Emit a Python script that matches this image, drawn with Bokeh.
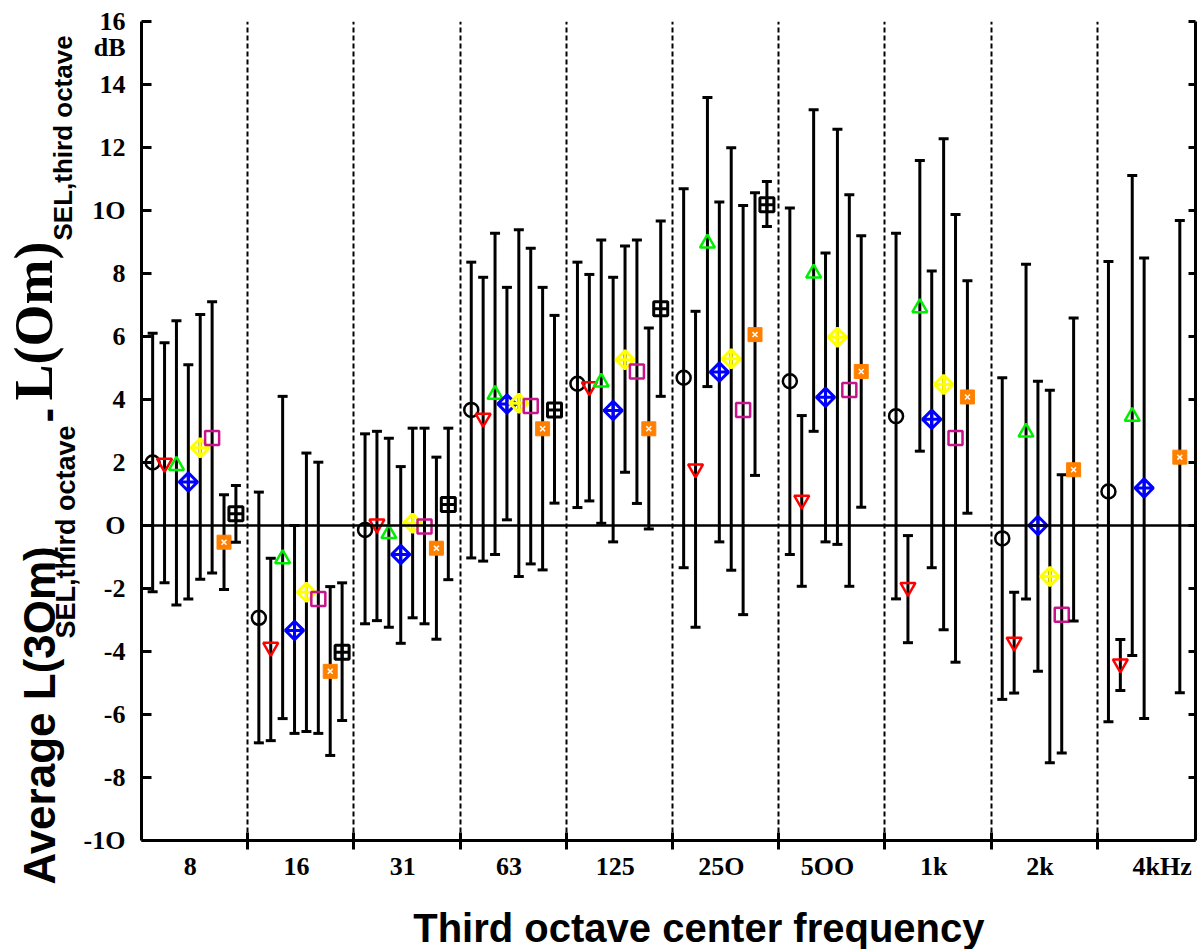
import math
from bokeh.plotting import figure
from bokeh.layouts import row, column
from bokeh.models import (FixedTicker, LinearAxis, Label, Span, Range1d,
                          ColumnDataSource, CustomLabelingPolicy)
from bokeh.embed import file_html
from bokeh.resources import INLINE

nan = float("nan")

# ---------------- data ----------------
freq_labels = ["8", "16", "31", "63", "125", "25O", "5OO", "1k", "2k", "4kHz"]
y_ticks = [-10, -8, -6, -4, -2, 0, 2, 4, 6, 8, 10, 12, 14, 16]
y_tick_labels = ["-1O", "-8", "-6", "-4", "-2", "O", "2", "4", "6", "8", "1O", "12", "14", "16"]
unit_label = "dB"

circle_val = [2.0, -2.93, -0.14, 3.67, 4.50, 4.69, 4.58, 3.47, -0.41, 1.08]
circle_lo = [-2.1, -6.9, -3.12, -1.03, 0.57, -1.34, -0.92, -2.33, -5.52, -6.23]
circle_hi = [6.1, 1.06, 2.91, 8.36, 8.36, 10.69, 10.08, 9.28, 4.69, 8.38]

tridown_val = [1.98, -3.86, 0.05, 3.41, 4.41, 1.80, 0.81, -1.96, -3.70, -4.39]
tridown_lo = [-1.82, -6.83, -3.02, -1.13, 0.78, -3.23, -1.93, -3.72, -5.32, -5.24]
tridown_hi = [5.8, -1.04, 2.99, 7.88, 7.97, 6.80, 3.49, -0.32, -2.12, -3.62]

triup_val = [1.9, -1.06, -0.26, 4.16, 4.55, 8.96, 8.01, 6.91, 2.96, 3.46]
triup_lo = [-2.52, -6.13, -3.23, -0.92, 0.07, 4.41, 2.99, 2.36, -2.33, -4.13]
triup_hi = [6.5, 4.1, 2.77, 9.28, 9.06, 13.59, 13.2, 11.59, 8.29, 11.11]

blue_val = [1.38, -3.33, -0.92, 3.86, 3.65, 4.87, 4.07, 3.37, 0.0, 1.19]
blue_lo = [-2.33, -6.6, -3.74, 0.18, -0.52, -0.52, -0.52, -1.34, -4.63, -6.13]
blue_hi = [5.1, 0.0, 1.87, 7.56, 7.88, 10.27, 8.65, 8.08, 4.58, 8.49]

yellow_val = [2.47, -2.12, 0.07, 3.88, 5.26, 5.29, 5.98, 4.48, -1.62, nan]
yellow_lo = [-1.71, -6.54, -2.93, -1.62, 1.69, -1.42, -0.60, -3.31, -7.53, nan]
yellow_hi = [6.7, 2.3, 3.09, 9.39, 8.87, 11.99, 12.58, 12.28, 4.29, nan]

magenta_val = [2.78, -2.33, -0.03, 3.79, 4.89, 3.67, 4.30, 2.78, -2.83, nan]
magenta_lo = [-1.51, -6.6, -3.12, -1.22, 0.70, -2.83, -1.93, -4.34, -7.22, nan]
magenta_hi = [7.1, 2.01, 3.09, 8.80, 9.06, 10.16, 10.50, 9.87, 1.61, nan]

orange_val = [-0.53, -4.63, -0.72, 3.07, 3.07, 6.06, 4.89, 4.08, 1.77, 2.17]
orange_lo = [-2.03, -7.3, -3.61, -1.41, -0.11, 1.59, 0.58, 0.39, -3.03, -5.31]
orange_hi = [0.98, -1.94, 2.17, 7.56, 6.27, 10.56, 9.20, 7.77, 6.59, 9.68]

blacksq_val = [0.37, -4.02, 0.67, 3.67, 6.88, 10.18, nan, nan, nan, nan]
blacksq_lo = [-0.53, -6.19, -1.72, 0.71, 4.10, 9.49, nan, nan, nan, nan]
blacksq_hi = [1.27, -1.82, 3.09, 6.67, 9.67, 10.92, nan, nan, nan, nan]

series = [
    (circle_val, circle_lo, circle_hi),
    (tridown_val, tridown_lo, tridown_hi),
    (triup_val, triup_lo, triup_hi),
    (blue_val, blue_lo, blue_hi),
    (yellow_val, yellow_lo, yellow_hi),
    (magenta_val, magenta_lo, magenta_hi),
    (orange_val, orange_lo, orange_hi),
    (blacksq_val, blacksq_lo, blacksq_hi),
]

# ---------------- layout constants ----------------
W, H = 1199, 949
LEFT_W = 80            # width of the y-title strip
GPX = 106.2            # pixels per frequency group
FRAME_W = 1054
FRAME_H = 819
TOP = 21
BOTTOM = 48
MAIN_H = TOP + FRAME_H + BOTTOM
UNIT_POS = 15.17       # vertical position of the unit text on the y axis

SANS = "Liberation Sans"
SERIF = "Liberation Serif"

def bare(fig):
    fig.outline_line_color = None
    fig.background_fill_color = "white"
    fig.border_fill_color = "white"
    fig.grid.visible = False
    return fig

# ---------------- main plot ----------------
p = figure(frame_width=FRAME_W, frame_height=FRAME_H,
           x_range=Range1d(0, FRAME_W / GPX), y_range=Range1d(-10, 16),
           output_backend="svg", toolbar_location=None,
           min_border_left=141 - LEFT_W, min_border_top=TOP, min_border_bottom=BOTTOM,
           min_border_right=0)
p.outline_line_color = None
p.background_fill_color = "white"
p.border_fill_color = "white"

n = len(freq_labels)
boundaries = list(range(1, n))
label_pos = [i + 0.46 for i in range(n - 1)] + [n - 1 + 0.61]

xa = p.xaxis[0]
xa.ticker = FixedTicker(ticks=label_pos, minor_ticks=boundaries)
xa.major_label_overrides = {lp: lab for lp, lab in zip(label_pos, freq_labels)}
xa.major_tick_line_color = None
xa.major_tick_out = 9
xa.major_tick_in = 0
xa.minor_tick_in = 8
xa.minor_tick_out = 9
xa.minor_tick_line_width = 3
xa.minor_tick_line_color = "black"
xa.axis_line_width = 3
xa.axis_line_color = "black"
xa.major_label_standoff = 2
xa.major_label_text_font = SERIF
xa.major_label_text_font_style = "bold"
xa.major_label_text_font_size = "26px"
xa.major_label_text_color = "black"

# left axis: tick marks drawn as minor ticks, labels (incl. unit) as major labels
ya = p.yaxis[0]
ya.ticker = FixedTicker(ticks=sorted(y_ticks + [UNIT_POS]), minor_ticks=y_ticks)
overrides = {t: s for t, s in zip(y_ticks, y_tick_labels)}
overrides[UNIT_POS] = unit_label
ya.major_label_overrides = overrides
ya.major_tick_line_color = None
ya.major_tick_in = 0
ya.major_tick_out = 0
ya.minor_tick_in = 10
ya.minor_tick_out = 0
ya.minor_tick_line_width = 3
ya.minor_tick_line_color = "black"
ya.axis_line_width = 3
ya.major_label_standoff = 16
ya.major_label_text_font = SERIF
ya.major_label_text_font_style = "bold"
ya.major_label_text_font_size = "26px"
ya.major_label_text_color = "black"

ra = LinearAxis(ticker=FixedTicker(ticks=y_ticks))
ra.major_tick_in = 7
ra.major_tick_out = 0
ra.major_tick_line_width = 3
ra.minor_tick_line_color = None
ra.axis_line_width = 3
ra.major_label_standoff = 0
ra.major_label_policy = CustomLabelingPolicy(code="for (const i of indices) indices.unset(i)")
p.add_layout(ra, "right")

p.xgrid[0].ticker = FixedTicker(ticks=boundaries)
p.xgrid[0].grid_line_color = "black"
p.xgrid[0].grid_line_width = 2
p.xgrid[0].grid_line_dash = "5 3"
p.ygrid[0].grid_line_color = None

p.add_layout(Span(location=0, dimension="width", line_color="black", line_width=2.5))

offsets = [0.105 + i * 0.112 for i in range(8)]

styles = [
    dict(marker="circle", size=14, line_color="black", fill_color=None, line_width=2.5),
    dict(marker="inverted_triangle", size=15, line_color="#FF0000", fill_color=None, line_width=2.5),
    dict(marker="triangle", size=15, line_color="#00EE00", fill_color=None, line_width=2.5),
    dict(marker="square_x", size=13, angle=math.pi / 4, line_color="#0000FF", fill_color=None, line_width=3),
    dict(marker="square_x", size=13, angle=math.pi / 4, line_color="#FFFF00", fill_color=None, line_width=3),
    dict(marker="square", size=14, line_color="#C8148C", fill_color=None, line_width=2.5),
    dict(marker="square", size=14, line_color="#FF8000", fill_color="#FF8000", line_width=1),
    dict(marker="square_cross", size=14, line_color="black", fill_color=None, line_width=3),
]

for i, ((val, lo, hi), st) in enumerate(zip(series, styles)):
    xs, ys, ls, hs = [], [], [], []
    for g in range(n):
        if not math.isnan(val[g]):
            xs.append(g + offsets[i]); ys.append(val[g]); ls.append(lo[g]); hs.append(hi[g])
    src = ColumnDataSource(dict(x=xs, y=ys, lo=ls, hi=hs))
    p.segment(x0="x", y0="lo", x1="x", y1="hi", source=src, line_color="black", line_width=3)
    p.scatter(x="x", y="lo", source=src, marker="dash", size=10, line_color="black", line_width=3)
    p.scatter(x="x", y="hi", source=src, marker="dash", size=10, line_color="black", line_width=3)
    p.scatter(x="x", y="y", source=src, **st)
    if i == 6:
        p.scatter(x="x", y="y", source=src, marker="x", size=7, line_color="white", line_width=1.5)

# ---------------- y-title strip (page coordinates, y measured from top) ----------------
lf = bare(figure(width=LEFT_W, height=H, x_range=Range1d(0, LEFT_W), y_range=Range1d(0, H),
                 output_backend="svg", toolbar_location=None,
                 x_axis_location=None, y_axis_location=None,
                 min_border_left=0, min_border_right=0, min_border_top=0, min_border_bottom=0))

def lab(fig, fig_h, px, py, text, font, size, angle=0.0, align="left"):
    # (px, py): page position of the centre line of the text box
    fig.add_layout(Label(x=px, y=fig_h - py, text=text, angle=angle, text_align=align,
                         text_baseline="middle", text_font=font, text_font_style="bold",
                         text_font_size=size, text_color="black"))

rot = math.pi / 2
lab(lf, H, 39, 884, "Average L(3Om)", SANS, "44px", rot)
lab(lf, H, 65, 638, "SEL,third octave", SANS, "27px", rot)
lab(lf, H, 46, 422, "-", SANS, "44px", rot)
lab(lf, H, 33, 400, "L(Om)", SERIF, "54px", rot)
lab(lf, H, 62, 240, "SEL,third octave", SANS, "26px", rot)

# ---------------- x-title strip ----------------
BH = H - MAIN_H
bf = bare(figure(width=W - LEFT_W, height=BH, x_range=Range1d(LEFT_W, W),
                 y_range=Range1d(0, BH),
                 output_backend="svg", toolbar_location=None,
                 x_axis_location=None, y_axis_location=None,
                 min_border_left=0, min_border_right=0, min_border_top=0, min_border_bottom=0))
lab(bf, BH, 682, 927 - MAIN_H, "Third octave center frequency", SANS, "40px", align="center")

layout = row(lf, column(p, bf, spacing=0), spacing=0)
open("out.html", "w").write(file_html(layout, INLINE))
